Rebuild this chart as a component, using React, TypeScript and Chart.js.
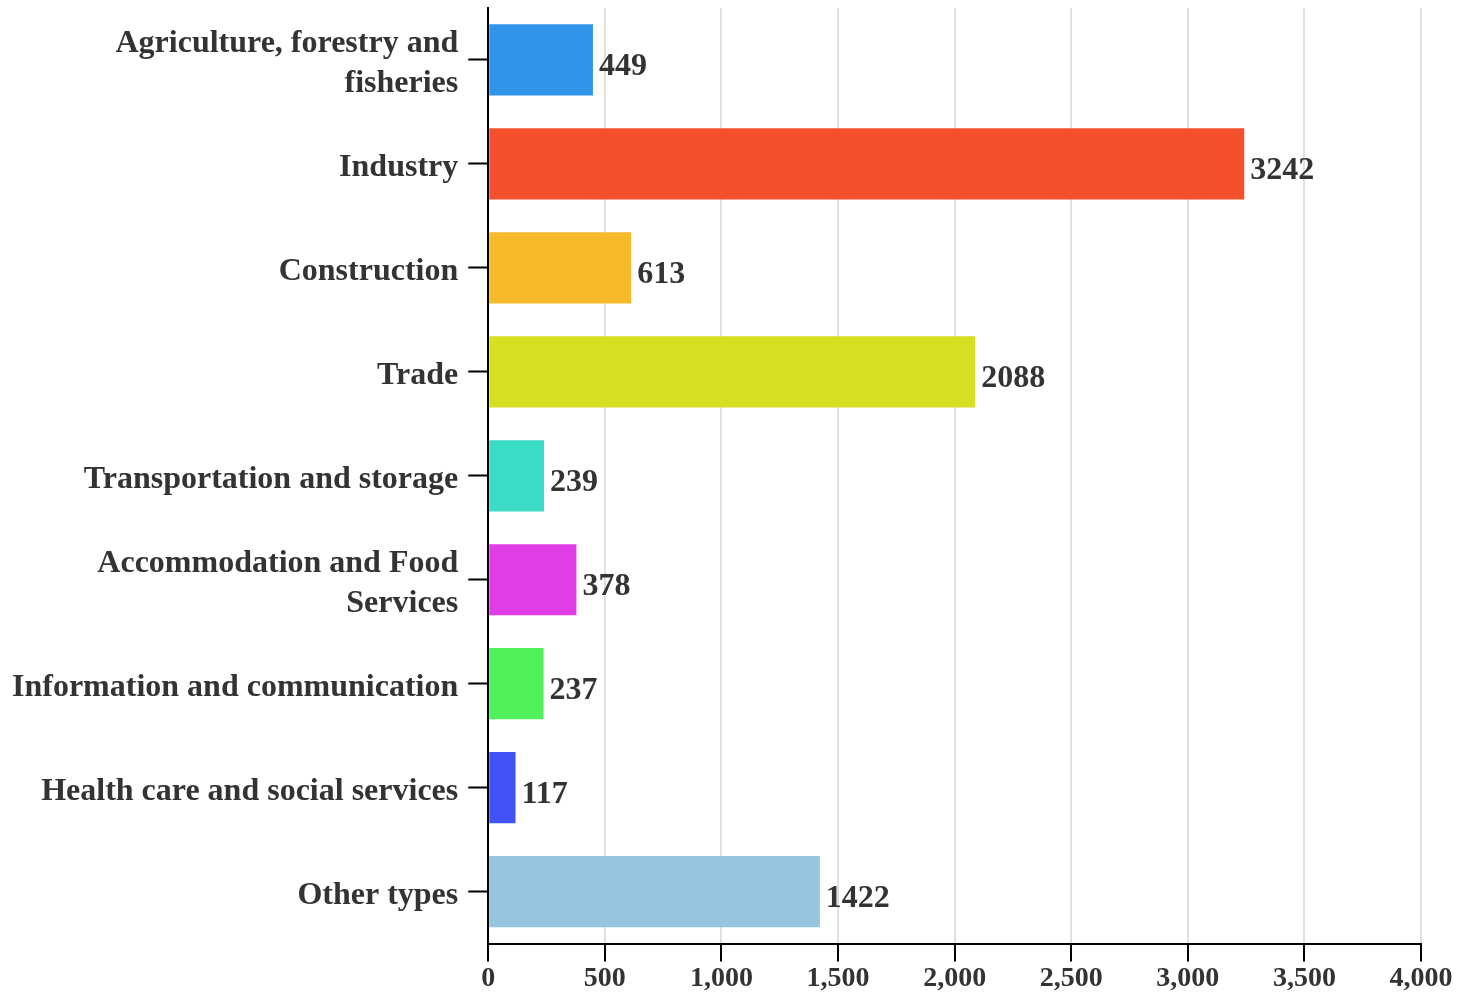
import React, { useEffect, useRef } from "react";
import { Chart, registerables } from "chart.js";

Chart.register(...registerables);

const categories: (string | string[])[] = [
  ["Agriculture, forestry and", "fisheries"],
  "Industry",
  "Construction",
  "Trade",
  "Transportation and storage",
  ["Accommodation and Food", "Services"],
  "Information and communication",
  "Health care and social services",
  "Other types",
];

const values: number[] = [449, 3242, 613, 2088, 239, 378, 237, 117, 1422];

const barColors: string[] = [
  "#3094EA",
  "#F5502E",
  "#F6BA2B",
  "#D6E021",
  "#3CDBC5",
  "#E03CE8",
  "#4FF25B",
  "#4153F5",
  "#97C4DE",
];

const xTickMax = 4000;
const xTickStep = 500;

const FONT = '"Liberation Serif", "Times New Roman", serif';
const TEXT = "#333333";

const valueLabels = {
  id: "valueLabels",
  afterDatasetsDraw(chart: any) {
    const ctx = chart.ctx;
    const meta = chart.getDatasetMeta(0);
    ctx.save();
    ctx.font = `bold 32px ${FONT}`;
    ctx.fillStyle = TEXT;
    ctx.textAlign = "left";
    ctx.textBaseline = "middle";
    meta.data.forEach((bar: any, i: number) => {
      ctx.fillText(String(values[i]), bar.x + 6, bar.y + 7);
    });
    ctx.restore();
  },
};

export default function App() {
  const ref = useRef<HTMLCanvasElement>(null);
  useEffect(() => {
    if (!ref.current) return;
    const chart = new Chart(ref.current, {
      type: "bar",
      data: {
        labels: categories,
        datasets: [
          {
            data: values,
            backgroundColor: barColors,
            borderWidth: 0,
            categoryPercentage: 1,
            barPercentage: 0.685,
          },
        ],
      },
      options: {
        indexAxis: "y",
        animation: false,
        responsive: false,
        layout: { padding: { top: 8, right: 47, bottom: -4, left: 2 } },
        plugins: {
          legend: { display: false },
          tooltip: { enabled: false },
        },
        scales: {
          x: {
            min: 0,
            max: xTickMax,
            ticks: {
              stepSize: xTickStep,
              color: TEXT,
              font: { family: FONT, size: 28, weight: "bold", lineHeight: 0.8 },
              padding: 6,
            },
            grid: {
              color: "#e0e0e0",
              lineWidth: 2,
              tickColor: "#000",
              tickWidth: 2,
              tickLength: 18,
            },
            border: { display: true, color: "#000", width: 2 },
            afterFit: (s: any) => {
              s.paddingRight = 0;
              s.paddingLeft = 0;
            },
          },
          y: {
            ticks: {
              color: TEXT,
              font: { family: FONT, size: 32, weight: "bold", lineHeight: 1.25 },
              padding: 10,
              labelOffset: 4,
            },
            grid: {
              offset: false,
              drawOnChartArea: false,
              tickColor: "#000",
              tickWidth: 2,
              tickLength: 20,
            },
            border: { display: true, color: "#000", width: 2 },
            afterFit: (s: any) => {
              s.paddingTop = 0;
              s.paddingBottom = 0;
            },
          },
        },
      },
      plugins: [valueLabels],
    });
    return () => chart.destroy();
  }, []);
  return (
    <div style={{ position: "absolute", left: 0, top: 0, width: 1468, height: 992 }}>
      <canvas ref={ref} width={1468} height={992} style={{ width: 1468, height: 992, display: "block" }} />
    </div>
  );
}
